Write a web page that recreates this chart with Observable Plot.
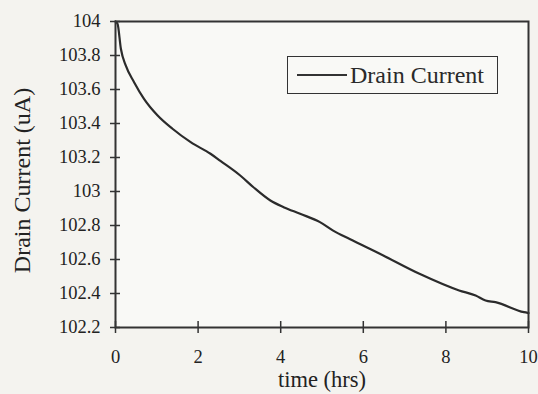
<!DOCTYPE html>
<html><head><meta charset="utf-8">
<script src="https://cdn.jsdelivr.net/npm/d3@7"></script>
<script src="https://cdn.jsdelivr.net/npm/@observablehq/plot@0.6"></script>
<style>
html,body{margin:0;padding:0;background:#f4f3ef;}
#wrap{position:relative;width:538px;height:394px;}
#legend{position:absolute;left:287px;top:56px;width:211px;height:38px;border:1.5px solid #333;box-sizing:border-box;background:#f9f9f6;font-family:"Liberation Serif",serif;font-size:24px;color:#2a2a2a;z-index:2;}
#legend .sw{position:absolute;left:9px;top:16.5px;width:50px;height:2px;background:#333;}
#legend .lb{position:absolute;left:62px;top:4px;line-height:28px;white-space:nowrap;}
</style></head><body>
<div id="wrap"><div id="legend"><div class="sw"></div><div class="lb">Drain Current</div></div></div>
<script>
const time = [0, 0.05, 0.13, 0.25, 0.45, 0.69, 1.02, 1.38, 1.82, 2.3, 2.54, 3.02, 3.34, 3.75, 4.07, 4.47, 4.95, 5.27, 5.67, 6.4, 7.36, 8.32, 8.72, 8.96, 9.2, 9.89, 10];
const current = [104.0, 103.986, 103.84, 103.74, 103.643, 103.545, 103.447, 103.369, 103.29, 103.222, 103.18, 103.094, 103.025, 102.947, 102.908, 102.869, 102.82, 102.77, 102.72, 102.634, 102.516, 102.418, 102.388, 102.359, 102.349, 102.29, 102.285];
const xTicks = [0, 2, 4, 6, 8, 10];
const yTicks = [102.2, 102.4, 102.6, 102.8, 103, 103.2, 103.4, 103.6, 103.8, 104];
const data = time.map((t, i) => ({t, c: current[i]}));

const chart = Plot.plot({
  width: 538, height: 394,
  marginLeft: 115, marginRight: 10, marginTop: 21, marginBottom: 67,
  style: {background: "transparent", fontFamily: "'Liberation Serif', serif", color: "#222"},
  x: {domain: [0, 10]},
  y: {domain: [102.2, 104]},
  marks: [
    Plot.rect([0], {x1: 0, x2: 10, y1: 102.2, y2: 104, fill: "#f9f9f6"}),
    Plot.line(data, {x: "t", y: "c", stroke: "#2b2b2b", strokeWidth: 2.2, curve: "monotone-x"}),
    Plot.frame({stroke: "#333", strokeWidth: 2}),
    Plot.axisY(yTicks, {tickSize: 5, tickPadding: 10, fontSize: 18.5, stroke: "#333", strokeWidth: 1.5, label: null, tickFormat: d => String(d)}),
    Plot.axisY(yTicks, {tickSize: -5, text: null, stroke: "#333", strokeWidth: 1.5, label: null}),
    Plot.axisX(xTicks, {tickSize: 6, tickPadding: 16, fontSize: 18.5, stroke: "#333", strokeWidth: 1.5, label: null}),
    Plot.axisX(xTicks, {tickSize: -6, text: null, stroke: "#333", strokeWidth: 1.5, label: null}),
    Plot.text(["time (hrs)"], {frameAnchor: "bottom", dy: 59, fontSize: 22.5, fill: "#222", textAnchor: "middle"}),
    Plot.text(["Drain Current (uA)"], {frameAnchor: "left", dx: -93, dy: 6, rotate: -90, fontSize: 24, fill: "#222", textAnchor: "middle"})
  ]
});
document.getElementById("wrap").prepend(chart);
chart.style.position = "absolute"; chart.style.left = "0"; chart.style.top = "0";
</script>
</body></html>
